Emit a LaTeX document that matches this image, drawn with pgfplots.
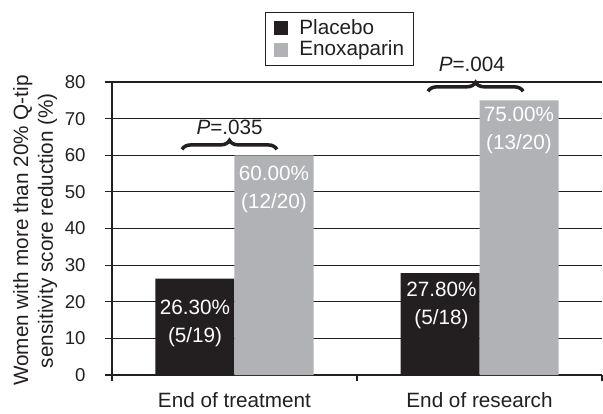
\documentclass[border=0pt]{standalone}
\usepackage{pgfplots}
\pgfplotsset{compat=1.18}
\usepackage{fontspec}
\setmainfont{Liberation Sans}
\usetikzlibrary{decorations.pathreplacing}
\definecolor{dark}{HTML}{231F20}
\definecolor{lgray}{HTML}{B1B2B5}
\newcommand{\fs}{\fontsize{20.7}{24.8}\selectfont}
\newcommand{\fb}{\fontsize{20.7}{28}\selectfont}
\newcommand{\ft}{\fontsize{18.6}{22}\selectfont}
\begin{document}
\begin{tikzpicture}
\begin{axis}[name=ax, scale only axis, width=490pt, height=293pt,
  xmin=-0.5, xmax=1.5, ymin=0, ymax=80,
  ybar=0pt, bar width=79pt,
  axis lines=left, axis line style={-, line width=1.2pt, dark},
  xtick={0,1}, xticklabels={End of treatment, End of research},
  minor xtick={-0.5,0.5,1.5},
  ytick={0,10,...,80},
  tick align=outside, major tick length=7pt, minor tick length=6pt,
  major x tick style={draw=none},
  every tick/.style={line width=1.2pt, dark},
  ymajorgrids, grid style={line width=1.2pt, dark},
  xticklabel style={font=\fs, text=dark, yshift=-7pt},
  yticklabel style={font=\ft, text=dark, xshift=-16pt},
  /pgf/number format/assume math mode=true,
  ylabel={Women with more than 20\% Q-tip\\sensitivity score reduction (\%)},
  ylabel style={align=center, font=\fs, text=dark, at={(axis description cs:-0.157,0.493)}, anchor=center},
  clip=false,
  legend style={at={(axis description cs:0.312,1.239)}, anchor=north west, draw=dark, line width=1pt,
    font=\fs, inner xsep=9pt, inner ysep=6pt, row sep=1.5pt,
    nodes={text height=16pt, text depth=4pt, inner xsep=0pt, inner ysep=0pt, text=dark},
    /tikz/every odd column/.append style={column sep=11pt}},
  legend cell align=left,
]
\addplot[fill=dark, draw=none, legend image code/.code={\fill[dark] (0pt,-7pt) rectangle (14pt,7pt);}]
  coordinates {(0,26.3) (1,27.8)};
\addplot[fill=lgray, draw=none, legend image code/.code={\fill[lgray] (0pt,-7pt) rectangle (14pt,7pt);}]
  coordinates {(0,60) (1,75)};
\legend{Placebo, Enoxaparin}

\node[text=white, align=center, font=\fb] at (axis cs:-0.161,14.2) {26.30\%\\(5/19)};
\node[text=white, align=center, font=\fb] at (axis cs:0.161,50.8) {60.00\%\\(12/20)};
\node[text=white, align=center, font=\fb] at (axis cs:0.845,19.1) {27.80\%\\(5/18)};
\node[text=white, align=center, font=\fb] at (axis cs:1.161,66.7) {75.00\%\\(13/20)};

\draw[dark, line width=3.5pt, decorate, decoration={brace, amplitude=9pt}]
  (axis cs:-0.214,61.6) -- (axis cs:0.173,61.6);
\draw[dark, line width=3.5pt, decorate, decoration={brace, amplitude=9pt}]
  (axis cs:0.790,77.45) -- (axis cs:1.178,77.45);
\node[font=\fs, text=dark] at (axis cs:-0.02,67.5) {\itshape P\upshape=.035};
\node[font=\fs, text=dark] at (axis cs:0.969,84.7) {\itshape P\upshape=.004};
\end{axis}
\pgfresetboundingbox
\path (ax.south west) ++(-112pt,-38pt) rectangle ++(603pt,413pt);
\end{tikzpicture}
\end{document}
